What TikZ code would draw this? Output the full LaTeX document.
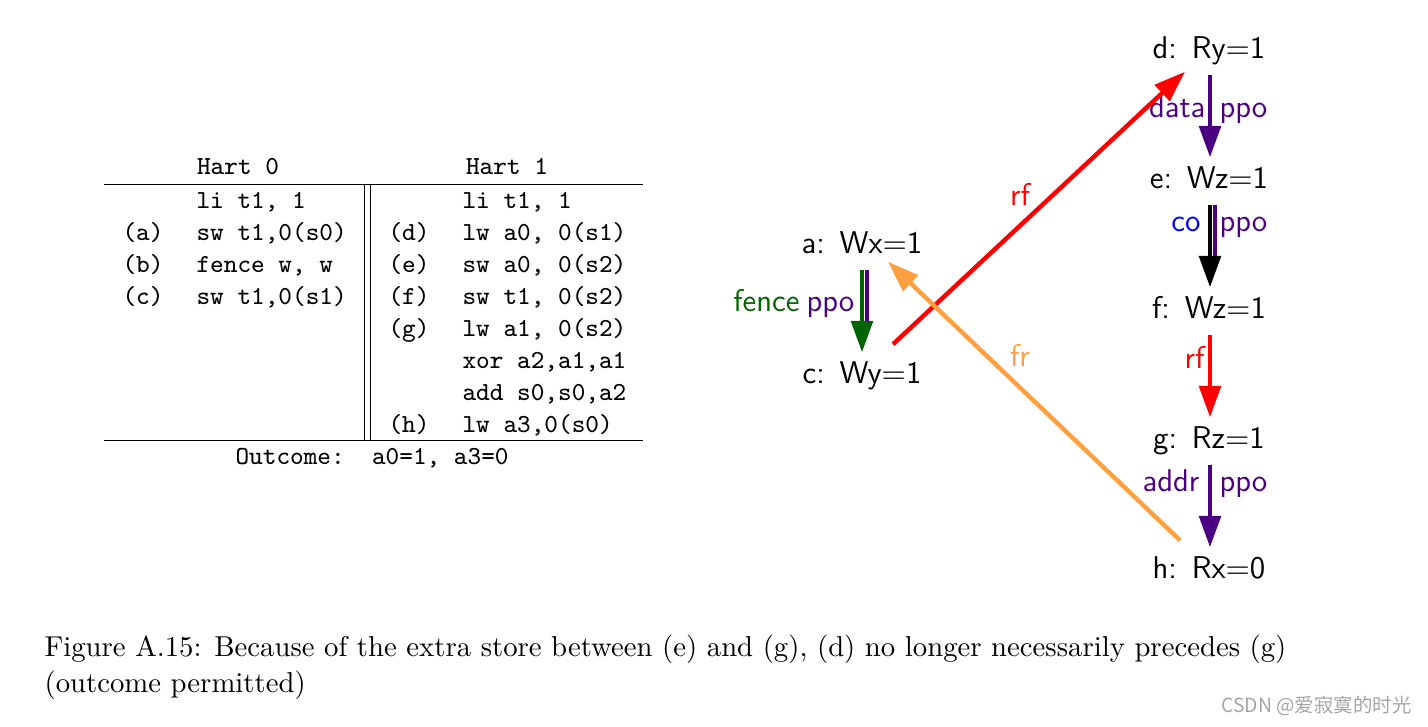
\documentclass[tikz,border=0pt]{standalone}
\usepackage{fontspec}
\usetikzlibrary{arrows.meta,calc}
\newfontfamily\cjk{Noto Sans CJK SC}
\definecolor{ppo}{RGB}{75,0,130}
\definecolor{fencegreen}{RGB}{0,100,0}
\definecolor{frorange}{RGB}{255,160,64}
\definecolor{cored}{RGB}{255,0,0}
\definecolor{coblue}{RGB}{0,0,255}
\definecolor{wm}{RGB}{165,165,165}
\begin{document}
\begin{tikzpicture}[x=0.35pt,y=-0.35pt,
  ev/.style={font=\sffamily\fontsize{11}{13}\selectfont, inner sep=0pt, text height=7.6pt, text depth=2pt, outer ysep=3.5pt, anchor=base},
  edge/.style={line width=1.55pt, -{Triangle[length=11pt,width=7.5pt]}},
  plain/.style={line width=1.55pt},
  lbl/.style={font=\sffamily\fontsize{11}{13}\selectfont, inner sep=0pt},
  code/.style={font=\ttfamily\fontsize{9.1}{11}\selectfont, inner sep=0pt, anchor=base west},
  hdr/.style={font=\ttfamily\fontsize{9.1}{11}\selectfont, inner sep=0pt, anchor=base},
  rule/.style={line width=0.33pt},
  capt/.style={font=\fontsize{10.06}{12}\selectfont, inner sep=0pt, anchor=base west},
]
\useasboundingbox (0,0) rectangle (1428,727);

% ---------- table ----------
\node[hdr] (h0) at (238,175) {Hart 0};
\node[hdr] (h1) at (507,175) {Hart 1};
\coordinate (tl) at (104,184);
\coordinate (tr) at (643,184);
\coordinate (bl) at (104,440);
\coordinate (br) at (643,440);
\draw[rule] (tl) -- (tr);
\draw[rule] (bl) -- (br);
\coordinate (v1t) at (364,184);
\coordinate (v1b) at (364,440);
\coordinate (v2t) at (370,184);
\coordinate (v2b) at (370,440);
\draw[rule] (v1t) -- (v1b);
\draw[rule] (v2t) -- (v2b);

\node[code] (r0a) at (196,209) {li t1, 1};
\node[code] (la) at (122,241) {(a)};
\node[code] (r1a) at (196,241) {sw t1,0(s0)};
\node[code] (lb) at (122,273) {(b)};
\node[code] (r2a) at (196,273) {fence w, w};
\node[code] (lc) at (122,305) {(c)};
\node[code] (r3a) at (196,305) {sw t1,0(s1)};

\node[code] (r0b) at (462,209) {li t1, 1};
\node[code] (ld) at (388,241) {(d)};
\node[code] (r1b) at (462,241) {lw a0, 0(s1)};
\node[code] (le) at (388,273) {(e)};
\node[code] (r2b) at (462,273) {sw a0, 0(s2)};
\node[code] (lf) at (388,305) {(f)};
\node[code] (r3b) at (462,305) {sw t1, 0(s2)};
\node[code] (lg) at (388,337) {(g)};
\node[code] (r4b) at (462,337) {lw a1, 0(s2)};
\node[code] (r5b) at (462,369) {xor a2,a1,a1};
\node[code] (r6b) at (462,401) {add s0,s0,a2};
\node[code] (lh) at (388,433) {(h)};
\node[code] (r7b) at (462,433) {lw a3,0(s0)};
\node[code] (out) at (235,465) {Outcome:\ \ a0=1, a3=0};

% ---------- graph ----------
\node[ev] (d) at (1209,59) {d:\hspace{0.47em}Ry$=$1};
\node[ev] (e) at (1209,189) {e:\hspace{0.47em}Wz$=$1};
\node[ev] (f) at (1209,319) {f:\hspace{0.47em}Wz$=$1};
\node[ev] (g) at (1209,449) {g:\hspace{0.47em}Rz$=$1};
\node[ev] (h) at (1209,579) {h:\hspace{0.47em}Rx$=$0};
\node[ev] (a) at (862,254) {a:\hspace{0.47em}Wx$=$1};
\node[ev] (c) at (862,384) {c:\hspace{0.47em}Wy$=$1};

% d -> e : data ppo
\draw[edge, ppo] ($(d.south)+(1,0)$) -- ($(e.north)+(1,0)$);
\node[lbl, text=ppo, anchor=base east] (ldata) at (1206,118) {data};
\node[lbl, text=ppo, anchor=base west] (lppo1) at (1219,118) {ppo};

% e -> f : co ppo
\draw[plain, ppo] ($(e.south)+(6,0)$) -- ($(f.north)+(6,-28)$);
\draw[edge, black] ($(e.south)+(1,0)$) -- ($(f.north)+(1,0)$);
\node[lbl, text=coblue, anchor=base east] (lco) at (1201,232) {co};
\node[lbl, text=ppo, anchor=base west] (lppo2) at (1219,232) {ppo};

% f -> g : rf
\draw[edge, cored] ($(f.south)+(1,0)$) -- ($(g.north)+(1,0)$);
\node[lbl, text=cored, anchor=base east] (lrf2) at (1205,369) {rf};

% g -> h : addr ppo
\draw[edge, ppo] ($(g.south)+(1,0)$) -- ($(h.north)+(1,0)$);
\node[lbl, text=ppo, anchor=base east] (laddr) at (1200,492) {addr};
\node[lbl, text=ppo, anchor=base west] (lppo3) at (1219,492) {ppo};

% a -> c : fence ppo
\draw[plain, ppo] ($(a.south)+(5,0)$) -- ($(c.north)+(5,-28)$);
\draw[edge, fencegreen] ($(a.south)+(0,0)$) -- ($(c.north)+(0,0)$);
\node[lbl, text=fencegreen, anchor=base east] (lfence) at (800,312) {fence};
\node[lbl, text=ppo, anchor=base west] (lppo4) at (806,312) {ppo};

% c -> d : rf
\draw[edge, cored] ($(c.north)+(31,-8)$) -- ($(d.south)+(-24,-3)$);
\node[lbl, text=cored, anchor=base] (lrf1) at (1020,206) {rf};

% h -> a : fr
\draw[edge, frorange] ($(h.north)+(-29,-7)$) -- ($(a.south)+(26,-8)$);
\node[lbl, text=frorange, anchor=base] (lfr) at (1020,367) {fr};

% ---------- caption ----------
\node[capt] (cap1) at (44,657) {Figure A.15: Because of the extra store between (e) and (g), (d) no longer necessarily precedes (g)};
\node[capt] (cap2) at (44,693) {(outcome permitted)};

% ---------- watermark ----------
\node[font=\cjk\fontsize{6.8}{7}\selectfont, text=wm, inner sep=0pt, anchor=base east] (wmk) at (1412,713) {CSDN @爱寂寞的时光};
\end{tikzpicture}
\end{document}
